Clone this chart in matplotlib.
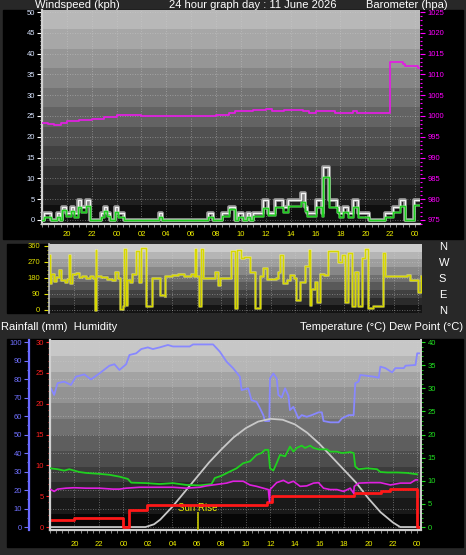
import numpy as np
import matplotlib
matplotlib.use('Agg')
import matplotlib.pyplot as plt
from matplotlib.ticker import MultipleLocator

plt.rcParams['font.family'] = ['Liberation Sans', 'DejaVu Sans']

W, H = 466, 555
BG = '#282828'

# ---- data, time in hours from midnight (11 June) ----
hour_ticks = [-4, -2, 0, 2, 4, 6, 8, 10, 12, 14, 16, 18, 20, 22, 24]

wind_t = [-6.0, -5.8, -5.25, -4.8, -4.55, -4.4, -4.05, -3.7, -3.45, -3.1, -2.85, -2.5, -2.15, -1.25, -1.05,
          -0.8, -0.55, -0.1, 0.15, 0.6, 3.4, 3.65, 7.35, 7.75, 8.45, 9.0, 9.55, 9.75, 10.2, 10.5, 10.75,
          10.95, 11.75, 12.2, 12.7, 13.4, 13.8, 14.85, 15.15, 15.3, 16.05, 16.5, 16.6, 17.05, 17.7, 17.9,
          18.2, 18.6, 19.0, 19.45, 20.3, 21.55, 22.2, 22.8, 23.2, 23.9, 24.3]
gust = [0, 1.6, 0, 1.6, 0, 3.2, 1.6, 3.2, 1.6, 4.8, 3.2, 4.8, 0, 1.6, 3.2,
        1.6, 0, 3.2, 1.6, 0, 1.6, 0, 1.6, 0, 1.6, 3.2, 0, 1.6, 0, 1.6, 0,
        1.6, 4.8, 1.6, 4.8, 3.2, 4.8, 6.4, 3.2, 1.6, 4.8, 1.6, 12.8, 4.8, 3.2, 1.6,
        3.2, 1.6, 4.8, 1.6, 0, 1.6, 3.2, 4.8, 0, 4.8, 4.8]
avg_speed = [0, 0.8, 0, 0.6, 0, 2.4, 1.0, 2.2, 0.8, 3.2, 2.0, 3.4, 0, 0.8, 2.2,
             1.0, 0, 2.0, 0.8, 0, 0.8, 0, 0.8, 0, 1.0, 2.6, 0, 0.6, 0, 0.8, 0,
             1.0, 2.8, 1.2, 3.0, 2.0, 3.4, 4.4, 2.2, 1.0, 3.0, 1.0, 10.4, 3.2, 2.0, 0.8,
             2.0, 0.8, 3.0, 0.8, 0, 0.6, 2.0, 3.4, 0, 3.6, 3.6]

baro_t = [-6, -5.5, -5.0, -4.5, -4.0, -3.0, -2.0, -1.0, 0, 0.5, 1, 2, 3, 4, 5, 6, 7, 8, 9, 9.5, 10, 11,
          12, 12.5, 13.5, 15, 15.5, 16, 17.4, 17.6, 18.9, 19.0, 19.3, 21.9, 22.0, 22.8, 23.0, 23.2,
          24.0, 24.2, 24.3]
baro = [998.2, 998.0, 997.8, 998.4, 998.8, 999.0, 999.3, 999.8, 1000.2, 1000.3, 1000.2, 1000.1,
        1000.0, 1000.0, 1000.0, 999.9, 1000.0, 1000.3, 1000.8, 1001.2, 1001.3, 1001.4, 1001.7,
        1001.3, 1001.4, 1001.3, 1000.8, 1001.3, 1001.3, 1000.8, 1000.8, 1001.3, 1000.8, 1000.8,
        1013.0, 1013.0, 1012.6, 1012.1, 1012.1, 1011.5, 1011.5]

dir_t = [-6.0, -5.95, -5.8, -5.6, -5.4, -5.15, -5.0, -4.7, -4.5, -4.38,
         -4.3, -4.1, -3.8, -3.6, -3.3, -3.0, -2.7, -2.4, -2.25, -2.2,
         -2.15, -1.8, -1.3, -0.9, -0.65, -0.4, -0.22, 0.0, 0.08, 0.25,
         0.35, 0.6, 0.75, 1.0, 1.1, 1.3, 1.5, 1.85, 1.92, 2.3,
         2.35, 2.95, 3.0, 3.4, 3.45, 4.0, 4.5, 5.0, 5.5, 5.8,
         5.85, 5.95, 6.2, 6.35, 6.5, 7.3, 7.5, 7.75, 7.9, 8.7,
         8.8, 9.1, 9.25, 9.6, 9.8, 10.2, 10.3, 10.65, 10.75, 11.0,
         11.1, 11.4, 11.7, 12.4, 12.6, 12.8, 13.0, 13.3, 13.6, 13.9,
         14.1, 14.4, 14.8, 15.1, 15.2, 15.3, 15.6, 15.75, 16.0, 16.3,
         16.7, 16.85, 17.5, 17.8, 18.05, 18.3, 18.6, 18.86, 19.1, 19.4,
         19.67, 19.94, 20.35, 21.16, 21.3, 23.06, 23.3, 24.0, 24.2]
wind_dir = [310, 150, 200, 165, 185, 225, 170, 155, 175, 310,
            150, 200, 210, 185, 190, 180, 190, 180, 0, 340,
            190, 185, 175, 170, 215, 180, 5, 20, 345, 30,
            170, 160, 205, 200, 330, 160, 350, 350, 20, 20,
            180, 180, 85, 80, 190, 195, 205, 190, 200, 190,
            345, 190, 20, 345, 180, 180, 215, 140, 180, 180,
            330, 10, 340, 290, 300, 300, 215, 215, 10, 10,
            190, 235, 175, 180, 215, 310, 150, 170, 195, 180,
            55, 160, 250, 340, 30, 120, 160, 45, 205, 195,
            330, 330, 270, 310, 45, 320, 20, 215, 20, 290,
            345, 10, 20, 320, 190, 195, 170, 100, 190]
compass = ['N', 'E', 'S', 'W', 'N']

hum_t = [-6.0, -5.93, -5.66, -5.38, -4.84, -4.29, -3.88, -3.2, -2.65, -1.97,
         -1.15, -0.74, -0.33, 0.22, 0.49, 1.04, 1.45, 1.99, 2.4, 2.95,
         3.63, 4.04, 5.41, 5.68, 7.32, 7.87, 8.42, 8.96, 9.51, 9.65,
         10.19, 10.46, 10.87, 11.15, 11.42, 11.56, 11.91, 11.97, 12.24, 12.51,
         12.65, 12.92, 13.2, 13.47, 13.6, 13.88, 14.29, 14.56, 14.97, 15.38,
         15.93, 16.2, 16.34, 16.89, 17.57, 17.84, 18.39, 18.8, 18.93, 19.2,
         19.34, 20.43, 20.85, 20.98, 21.39, 21.94, 22.21, 22.9, 23.03, 23.85,
         23.99, 24.2]
humidity = [75, 75, 71.4, 77.8, 78.6, 76.8, 81.3, 82.5, 79.8, 83,
            87.2, 88, 84.9, 88, 93, 93.9, 96.2, 97.1, 96.2, 97.1,
            98.4, 97.6, 97.6, 98.7, 98.7, 94.8, 89.4, 85.8, 81.3, 74,
            75, 68.6, 67.7, 64.2, 60.5, 57.3, 57.3, 80.4, 83, 80.4,
            71.4, 70, 75, 71, 63.2, 65, 58.7, 60.5, 59.6, 60.5,
            62, 62, 57.3, 56.6, 56.6, 58.7, 60.5, 60.5, 77.7, 78.6,
            82.2, 81.3, 80.7, 86.7, 85.9, 83.6, 85.9, 85.9, 87.2, 87.6,
            93.9, 93.9]

temp_t = [-6.0, -5.38, -4.84, -4.43, -4.02, -3.61, -3.06, -1.97, -1.15, -0.33,
          0.08, 0.36, 0.63, 1.86, 2.95, 4.04, 5.14, 6.23, 7.19, 7.46,
          8.01, 8.69, 9.24, 9.78, 10.33, 10.87, 11.28, 11.56, 11.83, 11.97,
          12.24, 12.51, 12.79, 13.2, 13.47, 13.6, 13.88, 14.15, 14.56, 14.83,
          15.25, 15.52, 15.93, 16.61, 16.89, 17.43, 17.84, 18.52, 18.8, 18.93,
          19.2, 19.89, 20.71, 20.98, 21.53, 22.35, 23.17, 23.99]
temperature = [12.7, 12.5, 12.2, 12.5, 12.2, 11.9, 11.7, 11.5, 11.3, 10.9,
               10.6, 10.4, 9.6, 9.5, 9.3, 9.5, 9.1, 9.0, 9.3, 10.6,
               11.1, 12.0, 12.7, 13.8, 14.2, 15.6, 16.0, 16.7, 16.7, 12.7,
               12.2, 13.8, 15.6, 15.3, 16.7, 17.4, 16.3, 17.1, 17.6, 17.1,
               17.6, 17.1, 16.8, 16.8, 16.3, 16.3, 16.0, 16.2, 16.0, 13.1,
               12.5, 12.7, 12.5, 11.9, 11.8, 11.8, 11.7, 11.4]

dew_t = [-5.93, -5.66, -5.38, -4.7, -4.02, -3.06, -1.97, -0.88, -0.33, 0.22,
         1.31, 2.68, 4.04, 5.14, 6.23, 6.78, 7.32, 8.42, 8.96, 9.51,
         9.78, 10.33, 10.87, 11.42, 11.83, 11.93, 11.97, 12.51, 13.06, 13.47,
         13.88, 14.43, 14.97, 15.52, 15.93, 16.34, 16.89, 17.43, 17.98, 18.52,
         18.8, 18.85, 19.2, 20.16, 20.98, 21.8, 22.62, 23.44, 23.85, 24.0]
dew_point = [8.1, 7.7, 8.2, 8.4, 8.5, 8.4, 8.4, 8.2, 8.2, 8.4,
             8.6, 8.6, 8.6, 8.4, 8.6, 8.9, 9.1, 9.5, 9.9, 9.9,
             9.9, 9.1, 8.8, 8.4, 8.1, 5.5, 8.1, 9.6, 10.1, 9.5,
             9.9, 8.8, 8.9, 9.5, 9.6, 8.4, 8.1, 8.1, 7.7, 8.4,
             7.3, 8.8, 9.5, 9.6, 9.6, 9.1, 9.5, 9.5, 10.2, 10.2]

rain_t = [-6.0, -4.0, -0.05, 0.45, 1.9, 11.7, 12.1, 18.8, 21.0, 21.8, 23.95, 24.3]
rain = [1.2, 1.45, 0.0, 2.7, 3.5, 4.0, 5.0, 5.5, 5.8, 6.2, 0.0, 0.0]

sun_t = [-6.0, 1.8, 2.5, 3, 4, 5, 6, 7, 8, 9, 10, 11, 12, 13, 14, 15, 16, 17, 18, 19, 20, 21, 22, 22.6, 24.3]
sun = [0, 0, 1.5, 4, 11, 19, 27, 35, 42, 48.5, 53.5, 57, 58.5, 58, 55.5, 51, 45, 38, 31, 24, 15.5, 8, 2.5, 0, 0]
sunrise = 6.1


def fr(x0, y0, x1, y1):
    # pixel box (top-left origin) -> figure rect
    return [x0 / W, 1 - y1 / H, (x1 - x0) / W, (y1 - y0) / H]


def shade(ax, top, bot, n):
    g = np.repeat(np.linspace(top, bot, n), 1).reshape(-1, 1)
    ax.imshow(g, cmap='gray', vmin=0, vmax=1, aspect='auto', extent=[0, 1, 0, 1],
              transform=ax.transAxes, zorder=0, interpolation='nearest')


def hours(ax, labels=True):
    ax.set_xticks(hour_ticks)
    ax.set_xticklabels([f'{h % 24:02d}' for h in hour_ticks] if labels else [])
    ax.xaxis.set_minor_locator(MultipleLocator(0.5))
    ax.tick_params(axis='x', which='both', colors='#a0a0a0', labelcolor='#f0f000',
                   labelsize=5.5, length=1.8 if labels else 0, width=0.6, pad=3)


def grid(ax):
    ax.grid(True, which='major', color='#d0d0d0', ls=(0, (1, 2)), lw=0.6, alpha=0.55)


fig = plt.figure(figsize=(W / 100, H / 100), dpi=100, facecolor=BG)
for x0, y0, x1, y1 in [(3, 10, 463, 239), (7, 244, 49, 313), (7, 339, 463, 547)]:
    fig.add_artist(plt.Rectangle((x0 / W, 1 - y1 / H), (x1 - x0) / W, (y1 - y0) / H,
                                 transform=fig.transFigure, color='black', zorder=-1))

# ---- wind speed / barometer ----
ax = fig.add_axes(fr(42, 10, 420, 224))
shade(ax, 0.72, 0.06, 11)
ax.plot(wind_t, gust, drawstyle='steps-post', color='#a0a0a0', lw=2.6, zorder=3)
ax.plot(wind_t, gust, drawstyle='steps-post', color='#f4f4f4', lw=0.8, zorder=3)
ax.plot(wind_t, avg_speed, drawstyle='steps-post', color='#90ff90', lw=2.0, alpha=0.5, zorder=4)
ax.plot(wind_t, avg_speed, drawstyle='steps-post', color='#20d020', lw=1.0, zorder=4)
ax.set_ylim(-1, 50.5)
ax.yaxis.set_major_locator(MultipleLocator(5))
ax.yaxis.set_minor_locator(MultipleLocator(1))
ax.tick_params(axis='y', which='major', colors='white', labelcolor='#d8e4ff', labelsize=5.5,
               length=3.5, width=0.8, pad=1.5)
ax.tick_params(axis='y', which='minor', colors='white', length=1.5, width=0.6)
hours(ax)
grid(ax)
for s in ['top', 'right']:
    ax.spines[s].set_visible(False)
for s in ['left', 'bottom']:
    ax.spines[s].set_color('#d0d0d0')
    ax.spines[s].set_linewidth(1.6)

axp = ax.twinx()
axp.plot(baro_t, baro, drawstyle='steps-post', color='#e020e0', lw=1.3)
axp.set_ylim(974, 1025.5)
axp.yaxis.set_major_locator(MultipleLocator(5))
axp.yaxis.set_minor_locator(MultipleLocator(1))
axp.tick_params(axis='y', which='major', colors='#ff00ff', labelsize=5.5, length=3.5, width=0.8, pad=2)
axp.tick_params(axis='y', which='minor', colors='#ff00ff', length=1.5, width=0.8)
for s in axp.spines.values():
    s.set_visible(False)
ax.set_xlim(-6, 24.4)

# ---- wind direction ----
axw = fig.add_axes(fr(49, 244, 422, 313))
shade(axw, 0.8, 0.08, 9)
axw.plot(dir_t, wind_dir, drawstyle='steps-post', color='#ffff80', lw=2.2, alpha=0.45)
axw.plot(dir_t, wind_dir, drawstyle='steps-post', color='#d8d800', lw=1.0)
axw.set_ylim(-17, 371)
axw.set_yticks([0, 90, 180, 270, 360])
axw.yaxis.set_minor_locator(MultipleLocator(22.5))
axw.tick_params(axis='y', which='major', colors='#e0e000', labelsize=5.5, length=3.5, width=0.8, pad=3)
axw.tick_params(axis='y', which='minor', colors='#e0e000', length=1.8, width=0.6)
hours(axw, labels=False)
grid(axw)
for s in ['top', 'right', 'bottom']:
    axw.spines[s].set_visible(False)
axw.spines['left'].set_color('#c0c0c0')
axw.spines['left'].set_linewidth(1.2)
axn = axw.twinx()
axn.set_ylim(-17, 371)
axn.set_yticks([0, 90, 180, 270, 360])
axn.set_yticklabels(compass)
axn.tick_params(axis='y', length=0, pad=12, labelsize=8, labelcolor='white')
for s in axn.spines.values():
    s.set_visible(False)
axw.set_xlim(-6, 24.3)

# ---- rain / humidity / temperature / dew point ----
axb = fig.add_axes(fr(50, 340, 421, 530))
shade(axb, 0.78, 0.03, 12)
axb.plot(hum_t, humidity, color='#8888ff', lw=1.3, zorder=3)
axb.plot(sun_t, sun, color='#c8c8c8', lw=1.3, zorder=3)
axb.vlines(sunrise, -1.6, 8, color='#c8c800', lw=1.2, zorder=3)
axb.text(sunrise, 10.5, 'Sun Rise', color='#e8e800', fontsize=7, ha='center', va='center', zorder=4)
axb.set_ylim(-1.6, 101.1)
axb.yaxis.set_major_locator(MultipleLocator(10))
axb.yaxis.set_minor_locator(MultipleLocator(5))
axb.tick_params(axis='y', which='major', colors='#7070ff', labelsize=5.5, length=3.5, width=0.8, pad=1.5)
axb.tick_params(axis='y', which='minor', colors='#7070ff', length=1.8, width=0.8)
hours(axb)
axb.tick_params(axis='x', pad=6)
grid(axb)
axb.spines['left'].set_position(('outward', 15))
axb.spines['left'].set_color('#6a6aff')
axb.spines['left'].set_linewidth(1.6)
axb.spines['bottom'].set_color('#d0d0d0')
axb.spines['bottom'].set_linewidth(1.6)
for s in ['top', 'right']:
    axb.spines[s].set_visible(False)

axr = axb.twinx()
axr.plot(rain_t, rain, drawstyle='steps-post', color='#ff1818', lw=2.0)
axr.set_ylim(-0.48, 30.33)
axr.yaxis.tick_left()
axr.yaxis.set_major_locator(MultipleLocator(5))
axr.yaxis.set_minor_locator(MultipleLocator(1))
axr.tick_params(axis='y', which='major', colors='#ff2020', labelsize=5.5, length=2.6, width=0.8, pad=2)
axr.tick_params(axis='y', which='minor', colors='#ff2020', length=1.3, width=0.6)
for s in ['top', 'right', 'bottom']:
    axr.spines[s].set_visible(False)
axr.spines['left'].set_visible(True)
axr.spines['left'].set_color('#d0d0d0')
axr.spines['left'].set_linewidth(1.6)

axt = axb.twinx()
axt.plot(temp_t, temperature, color='#20d020', lw=1.3)
axt.plot(dew_t, dew_point, color='#e020e0', lw=1.2)
axt.set_ylim(-0.64, 40.44)
axt.yaxis.set_major_locator(MultipleLocator(5))
axt.yaxis.set_minor_locator(MultipleLocator(1))
axt.tick_params(axis='y', which='major', colors='#20e020', labelsize=5.5, length=2.6, width=0.8, pad=2)
axt.tick_params(axis='y', which='minor', colors='#20e020', length=1.3, width=0.6)
for s in ['top', 'left', 'bottom']:
    axt.spines[s].set_visible(False)
axt.spines['right'].set_color('#d0d0d0')
axt.spines['right'].set_linewidth(1.4)
axb.set_xlim(-6, 24.3)

# ---- titles ----
tk = dict(color='white', fontsize=8, va='center')
fig.text(35 / W, 1 - 5 / H, 'Windspeed (kph)', ha='left', **tk)
fig.text(253 / W, 1 - 5 / H, '24 hour graph day : 11 June 2026', ha='center', **tk)
fig.text(448 / W, 1 - 5 / H, 'Barometer (hpa)', ha='right', **tk)
fig.text(1 / W, 1 - 327 / H, 'Rainfall (mm)  Humidity', ha='left', **tk)
fig.text(463 / W, 1 - 327 / H, 'Temperature (°C) Dew Point (°C)', ha='right', **tk)

fig.savefig('out.png', dpi=100, facecolor=BG)
